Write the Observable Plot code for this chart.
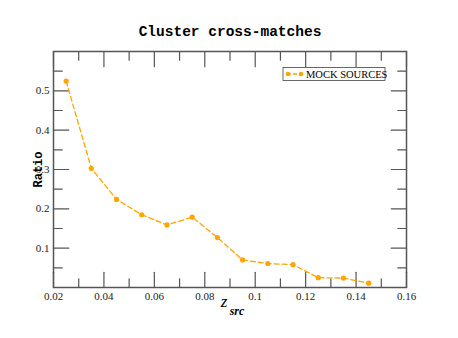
<!DOCTYPE html>
<html>
<head>
<meta charset="utf-8">
<script src="https://cdn.jsdelivr.net/npm/d3@7"></script>
<script src="https://cdn.jsdelivr.net/npm/@observablehq/plot@0.6"></script>
<style>
  html, body { margin: 0; padding: 0; background: #fff; }
</style>
</head>
<body>
<div id="chart"></div>
<script>
const titleText = "Cluster cross-matches";
const yLabel = "Ratio";
const seriesName = "MOCK SOURCES";
const zsrc = [0.025, 0.035, 0.045, 0.055, 0.065, 0.075, 0.085, 0.095, 0.105, 0.115, 0.125, 0.135, 0.145];
const ratio = [0.525, 0.303, 0.224, 0.185, 0.159, 0.179, 0.127, 0.070, 0.061, 0.058, 0.025, 0.024, 0.011];
const xTickLabels = ["0.02", "0.04", "0.06", "0.08", "0.1", "0.12", "0.14", "0.16"];
const xMinorTicks = [0.03, 0.05, 0.07, 0.09, 0.11, 0.13, 0.15];
const yTickLabels = ["0.1", "0.2", "0.3", "0.4", "0.5"];
const yMinorTicks = [0.05, 0.15, 0.25, 0.35, 0.45, 0.55];

const color = "#FFA500";
const frameColor = "#555";
const data = zsrc.map((z, i) => ({z, r: ratio[i]}));
const xTicks = xTickLabels.map(Number);
const yTicks = yTickLabels.map(Number);
const serif = "'Liberation Serif', 'DejaVu Serif', serif";
const mono = "'Liberation Mono', 'DejaVu Sans Mono', monospace";

const W = 458, H = 338, mL = 53, mR = 52, mT = 51, mB = 51;
const major = 7, minor = 4;
const xMajor = xTicks.map(v => ({v, len: major}));
const xMinor = xMinorTicks.map(v => ({v, len: minor}));
const yMajor = yTicks.map(v => ({v, len: major}));
const yMinor = yMinorTicks.map(v => ({v, len: minor}));

const stick = {draw(context, l) { context.moveTo(0, 0); context.lineTo(0, -l); }};
const tickStyle = {stroke: frameColor, strokeWidth: 1.2, shape: stick, anchor: "start"};
const xAll = [...xMajor, ...xMinor], yAll = [...yMajor, ...yMinor];

const chart = Plot.plot({
  width: W,
  height: H,
  marginLeft: mL,
  marginRight: mR,
  marginTop: mT,
  marginBottom: mB,
  style: {fontFamily: serif, fontSize: "11px", color: "#222", background: "#fff"},
  x: {domain: [0.02, 0.16]},
  y: {domain: [0, 0.6]},
  marks: [
    Plot.axisX({ticks: xTicks, tickSize: 0, tickPadding: 5, tickFormat: d => xTickLabels[xTicks.findIndex(t => Math.abs(t - d) < 1e-9)], label: null, fontSize: 11, fill: "#222"}),
    Plot.axisY({ticks: yTicks, tickSize: 0, tickPadding: 4, tickFormat: d => yTickLabels[yTicks.findIndex(t => Math.abs(t - d) < 1e-9)], label: null, fontSize: 11, fill: "#222"}),
    // inward ticks on all four sides
    Plot.vector(xAll, {x: "v", frameAnchor: "bottom", length: "len", rotate: 0, ...tickStyle}),
    Plot.vector(xAll, {x: "v", frameAnchor: "top", length: "len", rotate: 180, ...tickStyle}),
    Plot.vector(yAll, {y: "v", frameAnchor: "left", length: "len", rotate: 90, ...tickStyle}),
    Plot.vector(yAll, {y: "v", frameAnchor: "right", length: "len", rotate: -90, ...tickStyle}),
    Plot.frame({stroke: frameColor, strokeWidth: 1.5}),
    Plot.line(data, {x: "z", y: "r", stroke: color, strokeWidth: 1.3, strokeDasharray: "5,3"}),
    Plot.dot(data, {x: "z", y: "r", r: 2.6, fill: color, stroke: null}),
    Plot.text([titleText], {frameAnchor: "top", dy: -26, fontFamily: mono, fontWeight: "bold", fontSize: 14.5, fill: "#000", text: d => d}),
    Plot.text([yLabel], {frameAnchor: "left", dx: -15, rotate: -90, fontFamily: mono, fontWeight: "bold", fontSize: 12, fill: "#000", text: d => d, textAnchor: "middle"}),
    Plot.text(["z"], {frameAnchor: "bottom", dx: -6, dy: 19, fontFamily: serif, fontStyle: "italic", fontSize: 17, fill: "#000", text: d => d}),
    Plot.text(["src"], {frameAnchor: "bottom", dx: 7, dy: 27, fontFamily: serif, fontStyle: "italic", fontWeight: "bold", fontSize: 12, fill: "#000", text: d => d})
  ]
});

const svg = d3.select(chart);
// legend box (top-right inside frame)
const lg = svg.append("g").attr("class", "legend").attr("text-anchor", "start");
lg.append("rect").attr("x", 283).attr("y", 67.5).attr("width", 102).attr("height", 13)
  .attr("fill", "#fff").attr("stroke", "#444").attr("stroke-width", 0.8);
lg.append("line").attr("x1", 287).attr("x2", 302).attr("y1", 74).attr("y2", 74)
  .attr("stroke", color).attr("stroke-width", 1.3).attr("stroke-dasharray", "4,2");
lg.append("circle").attr("cx", 288).attr("cy", 74).attr("r", 2.3).attr("fill", color);
lg.append("circle").attr("cx", 301).attr("cy", 74).attr("r", 2.3).attr("fill", color);
lg.append("text").attr("x", 306).attr("y", 78).attr("text-anchor", "start").text(seriesName)
  .attr("font-family", serif).attr("font-size", 10.5).attr("fill", "#000");

document.getElementById("chart").appendChild(chart);
</script>
</body>
</html>
